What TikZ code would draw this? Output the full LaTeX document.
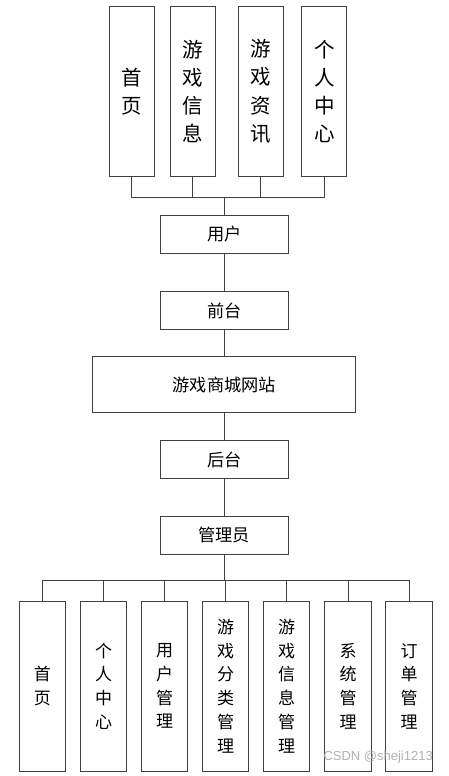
\documentclass[tikz,border=0pt]{standalone}
\usepackage{fontspec}
\newfontfamily\cjk{Noto Sans CJK SC}
\setsansfont{Liberation Sans}
\usetikzlibrary{positioning,calc}

\begin{document}
\begin{tikzpicture}[
		x=1pt, y=-1pt,
		box/.style={draw=black!75, line width=1pt, fill=white, inner sep=0pt, align=center},
		tallbox/.style={box, minimum width=45pt, minimum height=169pt, font=\cjk\fontsize{20.5}{28.3}\selectfont},
		flatbox/.style={box, minimum width=128pt, minimum height=38pt, font=\cjk\fontsize{17.2}{19}\selectfont},
		lowbox/.style={box, minimum width=46.5pt, minimum height=170pt, font=\cjk\fontsize{17}{23.7}\selectfont},
		link/.style={draw=black!75, line width=1pt}
		]
		\useasboundingbox (0,0) rectangle (448,776);
		
		% -------------------------------------------------
		% Front side pages
		% -------------------------------------------------
		\node[tallbox] (home) at (131.8,91.5) {首\\页};
		\node[tallbox] (gameinfo) at (192.7,91.5) {游\\戏\\信\\息};
		\node[tallbox] (gamenews) at (260.5,91.5) {游\\戏\\资\\讯};
		\node[tallbox] (mine) at (324.3,91.5) {个\\人\\中\\心};
		\coordinate (topbus) at (224.3,197.7);
		
		% -------------------------------------------------
		% Middle column
		% -------------------------------------------------
		\node[flatbox] (user) at (224.3,234.2) {用户};
		\node[flatbox] (front) at (224.3,310.8) {前台};
		\node[flatbox, minimum width=263.3pt, minimum height=56.3pt] (site) at (224.3,384.8) {游戏商城网站};
		\node[flatbox] (back) at (224.3,459.8) {后台};
		\node[flatbox] (admin) at (224.3,535.2) {管理员};
		\coordinate (lowbus) at (224.3,580);
		
		% -------------------------------------------------
		% Admin side pages
		% -------------------------------------------------
		\node[lowbox] (ahome) at (42.3,686) {首\\页};
		\node[lowbox] (amine) at (103.5,686) {个\\人\\中\\心};
		\node[lowbox] (auser) at (164.7,686) {用\\户\\管\\理};
		\node[lowbox] (akind) at (225.7,686) {游\\戏\\分\\类\\管\\理};
		\node[lowbox] (ainfo) at (286.7,686) {游\\戏\\信\\息\\管\\理};
		\node[lowbox] (asys) at (348,686) {系\\统\\管\\理};
		\node[lowbox] (aorder) at (409,686) {订\\单\\管\\理};
		
		% connectors
		\foreach \n in {home,gameinfo,gamenews,mine}
		\draw[link] (\n.south) |- (topbus);
		\draw[link] (topbus) -- (user.north);
		\draw[link] (user) -- (front);
		\draw[link] (front) -- (site);
		\draw[link] (site) -- (back);
		\draw[link] (back) -- (admin);
		\draw[link] (admin.south) -- (lowbus);
		\foreach \n in {ahome,amine,auser,akind,ainfo,asys,aorder}
		\draw[link] (lowbus) -| (\n.north);
		
		\node[font=\sffamily\fontsize{13}{15}\selectfont, text=black!30, anchor=east, inner sep=0pt] (mark) at (433,757) {CSDN @sheji1213};
		
	\end{tikzpicture}
\end{document}
